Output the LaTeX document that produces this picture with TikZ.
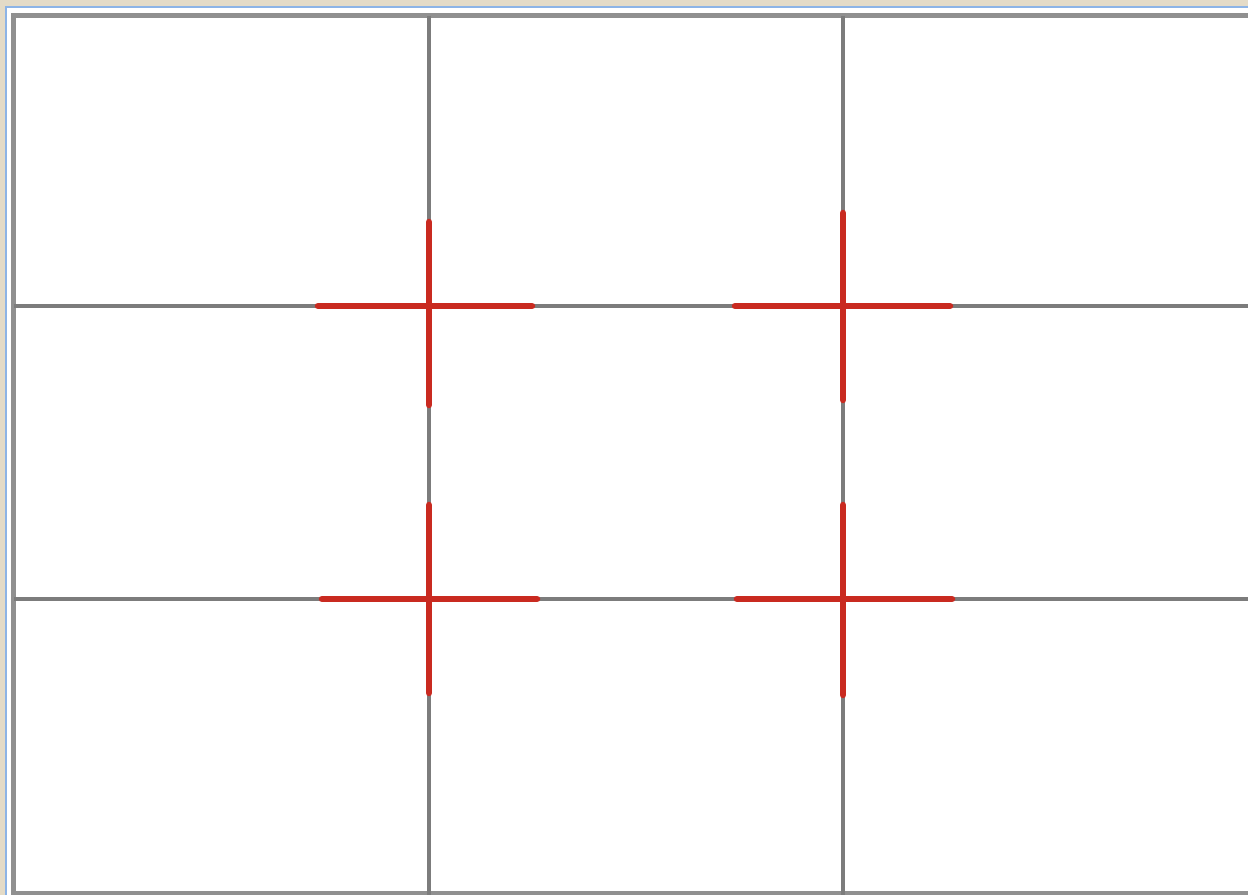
\documentclass[tikz,border=0pt]{standalone}
\usepackage{tikz}
\usetikzlibrary{calc,positioning}
\usepackage{xcolor}
\definecolor{sandbg}{HTML}{E4DBC7}
\definecolor{frameblue}{HTML}{8DB4E6}
\definecolor{gridgray}{HTML}{7C7C7C}
\definecolor{crossred}{HTML}{C92A20}

\tikzset{
  gridline/.style={gridgray, line width=0.035cm},
  crossline/.style={crossred, line width=0.065cm, line cap=round}
}

\begin{document}
\begin{tikzpicture}[x=0.01cm, y=-0.01cm]
  \useasboundingbox (0,0) rectangle (1248,895);
  % window frame
  \fill[sandbg] (0,0) rectangle (1248,895);
  \fill[frameblue] (5,6) rectangle (1248,895);
  \fill[white] (7,8) rectangle (1248,895);
  \draw[gridgray!85, line width=0.05cm] (1248,15.5) -- (13.5,15.5) -- (13.5,893.5) -- (1248,893.5);
  % thirds
  \coordinate (tl) at (429,306);
  \coordinate (tr) at (843,306);
  \coordinate (bl) at (429,599);
  \coordinate (br) at (843,599);
  \draw[gridline] (tl |- 0,16) -- (bl |- 0,895);
  \draw[gridline] (tr |- 0,16) -- (br |- 0,895);
  \draw[gridline] (tl -| 14,0) -- (tr -| 1248,0);
  \draw[gridline] (bl -| 14,0) -- (br -| 1248,0);
  % crosses: point/left/right/up/down
  \foreach \p/\l/\r/\u/\d in {tl/111/103/84/99, tr/108/107/93/94,
                              bl/107/108/94/94, br/106/109/94/96} {
    \draw[crossline] ($(\p)+(-\l,0)$) -- ($(\p)+(\r,0)$);
    \draw[crossline] ($(\p)+(0,-\u)$) -- ($(\p)+(0,\d)$);
  }
\end{tikzpicture}
\end{document}
